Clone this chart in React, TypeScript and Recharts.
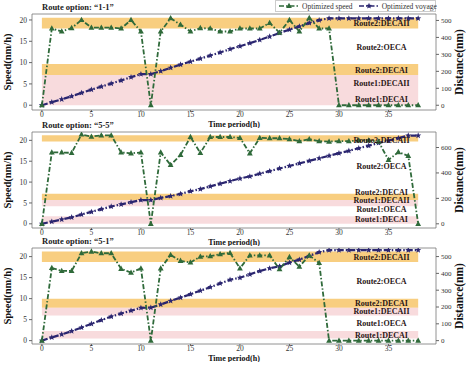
import React from 'react'
import { ComposedChart, Line, XAxis, YAxis, ReferenceArea, ReferenceDot } from 'recharts'

const hours = [0, 1, 2, 3, 4, 5, 6, 7, 8, 9, 10, 11, 12, 13, 14, 15, 16, 17, 18, 19, 20, 21, 22, 23, 24, 25, 26, 27, 28, 29, 30, 31, 32, 33, 34, 35, 36, 37, 38]

// route option "1-1"
const speed11 = [0, 18, 17.3, 18.1, 20, 18.2, 18.2, 18.2, 18, 20, 17.3, 0, 17.3, 20.4, 18.9, 17.3, 18.1, 18, 17.3, 17.3, 18, 18, 18, 19.3, 17, 20, 17.3, 20.5, 18, 18, 0, 0, 0, 0, 0, 0, 0, 0, 0]
const voyage11 = [0, 18, 35, 53, 73, 92, 110, 128, 146, 166, 183, 183, 201, 221, 240, 257, 275, 293, 311, 331, 348, 366, 385, 405, 426, 446, 465, 485, 502, 512, 512, 512, 512, 512, 512, 512, 512, 512, 512]

// route option "5-5"
const speed55 = [0, 17.1, 17.1, 17, 21.4, 20.9, 21.2, 21.2, 17.1, 16.9, 17.1, 0, 17.1, 14.1, 16.5, 20.8, 17, 20.8, 20.8, 20.8, 20.6, 16.9, 20.6, 20.5, 20.5, 20.3, 19.8, 20.3, 19.8, 19.7, 19.8, 19.8, 20, 20, 19.7, 15.3, 17.2, 16.3, 0]
const voyage55 = [0, 17, 34, 51, 73, 94, 115, 136, 153, 170, 187, 187, 204, 218, 235, 256, 273, 294, 315, 336, 356, 373, 394, 414, 435, 455, 475, 495, 515, 535, 555, 574, 594, 614, 636, 654, 674, 694, 694]

// route option "5-1"
const speed51 = [0, 17.3, 16.6, 16.6, 20.8, 21.2, 20.8, 20.8, 17.1, 16.2, 17.2, 0, 17.2, 20.4, 19, 18.6, 20, 20.1, 20.6, 20.9, 17.2, 20.3, 20.3, 20.3, 17, 19.9, 17.6, 20.3, 18.5, 0, 0, 0, 0, 0, 0, 0, 0, 0, 0]
const voyage51 = [0, 19, 37, 56, 78, 100, 122, 143, 161, 178, 195, 196, 215, 236, 256, 276, 297, 318, 340, 362, 374, 394, 414, 430, 442, 464, 482, 504, 526, 538, 538, 538, 538, 538, 538, 538, 538, 538, 538]

const hourTicks = [0, 5, 10, 15, 20, 25, 30, 35]
const speedTicks = [0, 5, 10, 15, 20]
const distTicks11 = [0, 100, 200, 300, 400, 500]
const distTicks55 = [0, 200, 400, 600]
const distTicks51 = [0, 100, 200, 300, 400, 500]

// zones, in speed-axis units
const zones11 = [
  { from: 18, to: 20.5, kind: 'deca' },
  { from: 7.1, to: 9.7, kind: 'deca' },
  { from: 0, to: 7.1, kind: 'route1' },
]
const zones55 = [
  { from: 19.7, to: 21.2, kind: 'deca' },
  { from: 5.7, to: 7.2, kind: 'deca' },
  { from: 4.2, to: 5.7, kind: 'route1' },
  { from: 0, to: 1.8, kind: 'route1' },
]
const zones51 = [
  { from: 18.7, to: 21.2, kind: 'deca' },
  { from: 7.8, to: 10, kind: 'deca' },
  { from: 6, to: 7.8, kind: 'route1' },
  { from: 0.5, to: 2.3, kind: 'route1' },
]

const zoneNames11 = ['Route2:DECAII', 'Route2:OECA', 'Route2:DECAI', 'Route1:DECAII', 'Route1:DECAI']
const zoneLevels11 = [19.2, 13.7, 8.3, 5.1, 1.5]
const zoneNames55 = ['Route2:DECAII', 'Route2:OECA', 'Route2:DECAI', 'Route1:DECAII', 'Route1:OECA', 'Route1:DECAI']
const zoneLevels55 = [20.1, 13.9, 7.7, 5.7, 3.4, 1.2]
const zoneNames51 = ['Route2:DECAII', 'Route2:OECA', 'Route2:DECAI', 'Route1:DECAII', 'Route1:OECA', 'Route1:DECAI']
const zoneLevels51 = [19.8, 14.2, 9.0, 7.1, 4.1, 1.35]

const serif = '"Liberation Serif", "Times New Roman", serif'
const GREEN = '#2f6a3a'
const NAVY = '#2b2670'
const X_DOMAIN = [-1, 39.8]

const Tri = (props: any) => {
  const { cx, cy } = props
  if (cx == null || cy == null) return null
  return <path d={`M${cx},${cy - 3.2} L${cx + 2.9},${cy + 2.1} L${cx - 2.9},${cy + 2.1} Z`} fill={GREEN} />
}

const Star = (props: any) => {
  const { cx, cy } = props
  if (cx == null || cy == null) return null
  let d = ''
  for (let i = 0; i < 10; i++) {
    const r = i % 2 === 0 ? 3.2 : 1.4
    const a = -Math.PI / 2 + (i * Math.PI) / 5
    d += `${i === 0 ? 'M' : 'L'}${cx + r * Math.cos(a)},${cy + r * Math.sin(a)} `
  }
  return <path d={d + 'Z'} fill={NAVY} />
}

type PanelProps = {
  title: string
  top: number
  speed: number[]
  voyage: number[]
  zones: { from: number; to: number; kind: string }[]
  names: string[]
  levels: number[]
  distTicks: number[]
  left: number[]
  right: number[]
}

function Panel({ title, top, speed, voyage, zones, names, levels, distTicks, left, right }: PanelProps) {
  const data = hours.map((h, i) => ({ h, speed: speed[i], voyage: voyage[i] }))
  const tick = { fontSize: 7.5, fill: '#333', fontFamily: serif }
  return (
    <div style={{ position: 'absolute', left: 0, top, width: 466, height: 128 }}>
      <div style={{ position: 'absolute', left: 42, top: 3, fontFamily: serif, fontWeight: 'bold', fontSize: 8.5, lineHeight: '8px', color: '#222', whiteSpace: 'nowrap' }}>
        {title}
      </div>
      <ComposedChart width={466} height={128} data={data} margin={{ top: 14, right: 6, bottom: 0, left: 8 }}>
        <XAxis
          dataKey="h"
          type="number"
          domain={X_DOMAIN}
          ticks={hourTicks}
          allowDataOverflow
          height={18}
          axisLine={false}
          tickSize={2}
          tickMargin={0}
          tickLine={{ stroke: '#666' }}
          tick={tick}
          label={{
            content: (p: any) => {
              const vb = p.viewBox
              return (
                <text x={vb.x + vb.width / 2} y={vb.y + 14} textAnchor="middle" dominantBaseline="central" fontFamily={serif} fontWeight="bold" fontSize={8} fill="#111">
                  Time period(h)
                </text>
              )
            },
          }}
        />
        <YAxis
          yAxisId="l"
          type="number"
          domain={left}
          ticks={speedTicks}
          allowDataOverflow
          width={24}
          axisLine={false}
          tickSize={3}
          tickMargin={2}
          tickLine={{ stroke: '#666' }}
          tick={tick}
          label={{
            content: (p: any) => {
              const vb = p.viewBox
              const cy = vb.y + vb.height / 2
              return (
                <text x={7} y={cy} transform={`rotate(-90 7 ${cy})`} textAnchor="middle" dominantBaseline="central" fontFamily={serif} fontWeight="bold" fontSize={10.5} fill="#111">
                  Speed(nm/h)
                </text>
              )
            },
          }}
        />
        <YAxis
          yAxisId="r"
          orientation="right"
          type="number"
          domain={right}
          ticks={distTicks}
          allowDataOverflow
          width={24}
          axisLine={false}
          tickSize={3}
          tickMargin={2}
          tickLine={{ stroke: '#666' }}
          tick={{ ...tick, fontSize: 7 }}
          label={{
            content: (p: any) => {
              const vb = p.viewBox
              const cy = vb.y + vb.height / 2
              return (
                <text x={459} y={cy} transform={`rotate(-90 459 ${cy})`} textAnchor="middle" dominantBaseline="central" fontFamily={serif} fontWeight="bold" fontSize={11.5} fill="#111">
                  Distance(nm)
                </text>
              )
            },
          }}
        />
        {zones.map((z, i) => (
          <ReferenceArea
            key={'z' + i}
            yAxisId="l"
            x1={0}
            x2={38}
            y1={z.from}
            y2={z.to}
            fill={z.kind === 'deca' ? '#f6bd55' : '#f3c3c6'}
            fillOpacity={z.kind === 'deca' ? 0.75 : 0.6}
            stroke="none"
          />
        ))}
        <Line yAxisId="r" dataKey="voyage" stroke={NAVY} strokeWidth={2.2} strokeDasharray="6 2 1.5 2" dot={<Star />} isAnimationActive={false} />
        <Line yAxisId="l" dataKey="speed" stroke={GREEN} strokeWidth={1.8} strokeDasharray="5 2 1.5 2" dot={<Tri />} isAnimationActive={false} />
        {names.map((n, i) => (
          <ReferenceDot
            key={'n' + i}
            yAxisId="l"
            x={34.3}
            y={levels[i]}
            r={0}
            fill="none"
            stroke="none"
            label={{ value: n, position: 'center', fontFamily: serif, fontWeight: 'bold', fontSize: 8, fill: '#2a1616' }}
          />
        ))}
        <ReferenceArea yAxisId="l" x1={X_DOMAIN[0]} x2={X_DOMAIN[1]} y1={left[0]} y2={left[1]} fill="none" stroke="#777" strokeWidth={0.8} ifOverflow="visible" />
      </ComposedChart>
    </div>
  )
}

function LegendBox() {
  const item = (color: string, text: string, mark: React.ReactNode) => (
    <div style={{ display: 'flex', alignItems: 'center', marginRight: 6 }}>
      <svg width={20} height={8} style={{ marginRight: 3 }}>
        <line x1={0} y1={4} x2={20} y2={4} stroke={color} strokeWidth={1.6} strokeDasharray="5 2 1.5 2" />
        {mark}
      </svg>
      <span>{text}</span>
    </div>
  )
  return (
    <div style={{ position: 'absolute', left: 275, top: 0, width: 161, height: 12, border: '1px solid #ccc', boxSizing: 'border-box', background: 'rgba(255,255,255,0.9)', display: 'flex', alignItems: 'center', paddingLeft: 3, fontFamily: serif, fontSize: 7.5, color: '#333', whiteSpace: 'nowrap' }}>
      {item(GREEN, 'Optimized speed', <Tri cx={10} cy={4} />)}
      {item(NAVY, 'Optimized voyage', <Star cx={10} cy={4} />)}
    </div>
  )
}

export default function App() {
  return (
    <div style={{ position: 'absolute', left: 0, top: 0, width: 466, height: 366, background: '#fff', overflow: 'hidden' }}>
      <Panel title={'Route option: \u201c1-1\u201d'} top={0} speed={speed11} voyage={voyage11} zones={zones11} names={zoneNames11} levels={zoneLevels11} distTicks={distTicks11} left={[-1.12, 21.4]} right={[-28, 538]} />
      <Panel title={'Route option: \u201c5-5\u201d'} top={118} speed={speed55} voyage={voyage55} zones={zones55} names={zoneNames55} levels={zoneLevels55} distTicks={distTicks55} left={[-1, 22]} right={[-33, 722]} />
      <Panel title={'Route option: \u201c5-1\u201d'} top={234} speed={speed51} voyage={voyage51} zones={zones51} names={zoneNames51} levels={zoneLevels51} distTicks={distTicks51} left={[-0.8, 22.05]} right={[-20, 551]} />
      <LegendBox />
    </div>
  )
}
